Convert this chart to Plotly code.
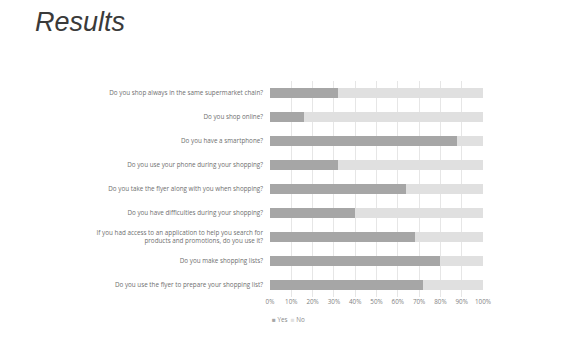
import plotly.graph_objects as go

questions = [
    "Do you shop always in the same supermarket chain?",
    "Do you shop online?",
    "Do you have a smartphone?",
    "Do you use your phone during your shopping?",
    "Do you take the flyer along with you when shopping?",
    "Do you have difficulties during your shopping?",
    "If you had access to an application to help you search for<br>products and promotions, do you use it?",
    "Do you make shopping lists?",
    "Do you use the flyer to prepare your shopping list?",
]
yes_pct = [32, 16, 88, 32, 64, 40, 68, 80, 72]
no_pct = [100 - v for v in yes_pct]
yes_color = "#a6a6a6"
no_color = "#e0e0e0"

fig = go.Figure()
fig.add_bar(y=questions, x=yes_pct, name="Yes", orientation="h",
            marker_color=yes_color, marker_line_width=0)
fig.add_bar(y=questions, x=no_pct, name="No", orientation="h",
            marker_color=no_color, marker_line_width=0)

# page has an 8px body margin, so the figure is a little smaller than the window
fig.update_layout(
    barmode="stack",
    bargap=0.62,
    width=564, height=341,
    margin=dict(l=262, r=89, t=73, b=52),
    paper_bgcolor="white", plot_bgcolor="white",
    font=dict(family="Open Sans", size=6.3, color="#7f7f7f"),
    title=dict(text="<i>Results</i>", xref="container", yref="container",
               x=27 / 564, xanchor="left", y=1 - 14 / 341, yanchor="middle",
               font=dict(family="Liberation Sans", size=27, color="#3a3a3a")),
    showlegend=False,
)
fig.add_annotation(
    text=f"<span style='color:{yes_color}'>■</span> Yes  "
         f"<span style='color:{no_color}'>■</span> No",
    xref="paper", yref="paper", x=0.0, xanchor="left",
    y=-0.105, yanchor="middle", showarrow=False,
    font=dict(size=6.3, color="#8a8a8a"),
)
fig.update_xaxes(range=[0, 100], dtick=10, ticksuffix="%", showgrid=True,
                 gridcolor="#e6e6e6", gridwidth=1, zeroline=False,
                 showline=False, ticks="", tickfont=dict(size=6.3))
fig.update_yaxes(autorange="reversed", showgrid=False, ticks="",
                 ticklabelstandoff=6, tickfont=dict(size=6.3, color="#6f6f6f"))

fig.write_html("out.html")
